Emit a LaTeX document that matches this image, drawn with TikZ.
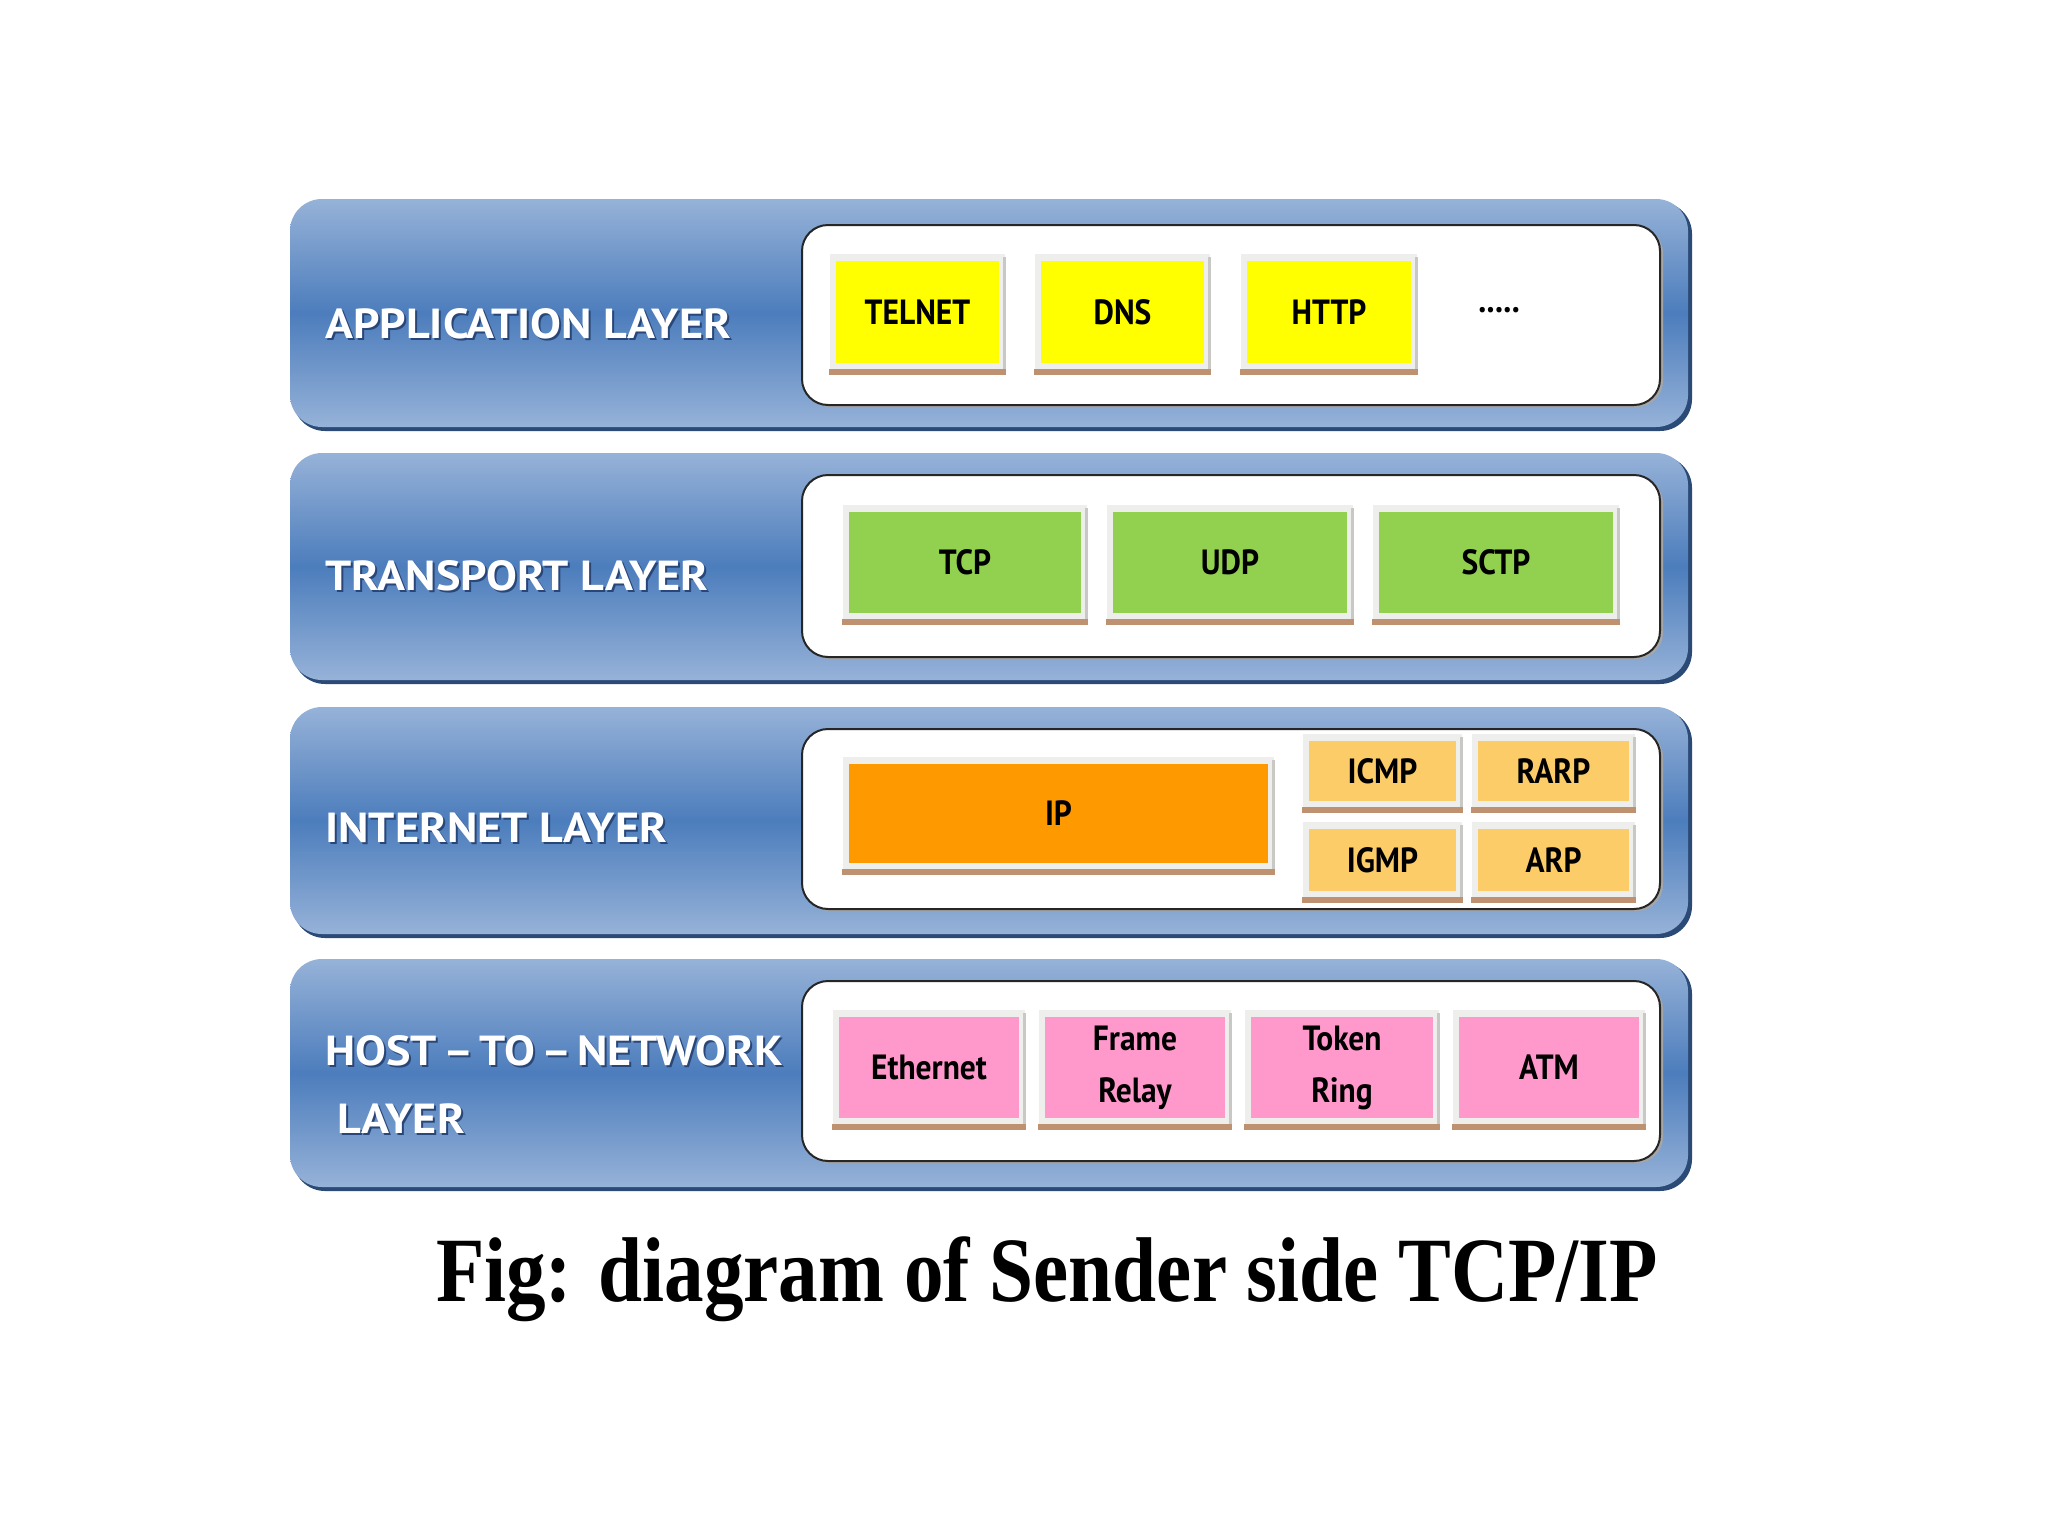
\documentclass[tikz,border=0pt]{standalone}
\usepackage{fontspec}
\setmainfont{Liberation Serif}
\newfontfamily\lblfont[FakeStretch=1.1]{PT Sans}
\newfontfamily\boxfont[FakeStretch=0.9]{PT Sans}
\newfontfamily\capfont[FakeStretch=0.86]{Liberation Serif}
\definecolor{bandlight}{RGB}{150,178,216}
\definecolor{banddark}{RGB}{76,125,188}
\definecolor{bandedge}{RGB}{44,74,118}
\definecolor{lblshadow}{RGB}{40,70,120}
\definecolor{framegray}{RGB}{238,238,236}
\definecolor{frameedge}{RGB}{200,200,196}
\definecolor{brownsh}{RGB}{190,145,112}
\definecolor{cyellow}{RGB}{255,255,0}
\definecolor{cgreen}{RGB}{146,208,80}
\definecolor{corange}{RGB}{255,153,0}
\definecolor{clorange}{RGB}{252,204,104}
\definecolor{cpink}{RGB}{255,153,204}
\tikzset{
  lbl/.style={font=\lblfont\bfseries\fontsize{21}{25}\selectfont, text=white, anchor=west, inner sep=0pt},
  lblsh/.style={font=\lblfont\bfseries\fontsize{21}{25}\selectfont, text=lblshadow, anchor=west, inner sep=0pt},
  boxtxt/.style={font=\boxfont\bfseries\fontsize{17.5}{22}\selectfont, text=black, inner sep=0pt, align=center},
  captxt/.style={font=\capfont\bfseries\fontsize{46}{50}\selectfont, text=black, inner sep=0pt}
}
% band: y0 y1
\newcommand{\band}[2]{%
  \fill[bandedge, rounded corners=16pt] (293,#1+3) rectangle (1692,#2);
  \shade[top color=bandlight, bottom color=bandlight, middle color=banddark, rounded corners=16pt] (290,#1) rectangle (1688,#2-4);
}
% inner white box: y0 y1
\newcommand{\inner}[2]{%
  \fill[black!35, rounded corners=13pt] (804,#1+2) rectangle (1663,#2+2);
  \filldraw[fill=white, draw=black!85, line width=1pt, rounded corners=13pt] (802,#1) rectangle (1660,#2);
}
% protocol box: name x0 y0 x1 y1 colour text
\newcommand{\pbox}[7]{%
  \fill[framegray] (#2-6,#3-7) rectangle (#4+6,#5+7);
  \fill[frameedge] (#4+4,#3-4) rectangle (#4+7,#5+7);
  \fill[brownsh] (#2-7,#5+6) rectangle (#4+7,#5+12);
  \fill[#6] (#2,#3) rectangle (#4,#5);
  \node[boxtxt] (#1) at ({(#2+#4)/2},{(#3+#5)/2}) {#7};
}
\newcommand{\hostlabel}{{\spaceskip=3pt plus 1pt HOST – TO – NETWORK}}
\begin{document}
\begin{tikzpicture}[x=0.5pt,y=-0.5pt]
\fill[white] (0,0) rectangle (2048,1536);
\useasboundingbox (0,0) rectangle (2048,1536);

\band{199}{431}
\band{453}{684}
\band{707}{938}
\band{959}{1191}

\inner{225}{405}
\inner{475}{657}
\inner{729}{909}
\inner{981}{1161}

% labels
\node[lblsh] (appsh) at (327,326) {APPLICATION LAYER};
\node[lbl] (app) at (325,324) {APPLICATION LAYER};
\node[lblsh] (trsh) at (327,578) {TRANSPORT LAYER};
\node[lbl] (tr) at (325,576) {TRANSPORT LAYER};
\node[lblsh] (insh) at (327,830) {INTERNET LAYER};
\node[lbl] (in) at (325,828) {INTERNET LAYER};
\node[lblsh] (hostsh) at (327,1053) {\hostlabel};
\node[lbl] (host) at (325,1051) {\hostlabel};
\node[lblsh] (laysh) at (339,1121) {LAYER};
\node[lbl] (lay) at (337,1119) {LAYER};

% application
\pbox{telnet}{836}{261}{999}{363}{cyellow}{TELNET}
\pbox{dns}{1041}{261}{1204}{363}{cyellow}{DNS}
\pbox{http}{1247}{261}{1411}{363}{cyellow}{HTTP}
\node[boxtxt, font=\boxfont\bfseries\fontsize{18}{20}\selectfont] (dots) at (1499,310) {.....};

% transport
\pbox{tcp}{849}{512}{1081}{613}{cgreen}{TCP}
\pbox{udp}{1113}{512}{1347}{613}{cgreen}{UDP}
\pbox{sctp}{1379}{512}{1613}{613}{cgreen}{SCTP}

% internet
\pbox{ip}{849}{764}{1268}{863}{corange}{IP}
\pbox{icmp}{1309}{741}{1456}{801}{clorange}{ICMP}
\pbox{rarp}{1478}{741}{1629}{801}{clorange}{RARP}
\pbox{igmp}{1309}{829}{1456}{891}{clorange}{IGMP}
\pbox{arp}{1478}{829}{1629}{891}{clorange}{ARP}

% host-to-network
\pbox{eth}{839}{1017}{1019}{1118}{cpink}{Ethernet}
\pbox{fr}{1045}{1017}{1225}{1118}{cpink}{Frame\\[4pt]Relay}
\pbox{tr2}{1251}{1017}{1433}{1118}{cpink}{Token\\[4pt]Ring}
\pbox{atm}{1459}{1017}{1639}{1118}{cpink}{ATM}

\node[captxt] (cap) at (1047,1279) {Fig: diagram of Sender side TCP/IP};
\end{tikzpicture}
\end{document}
